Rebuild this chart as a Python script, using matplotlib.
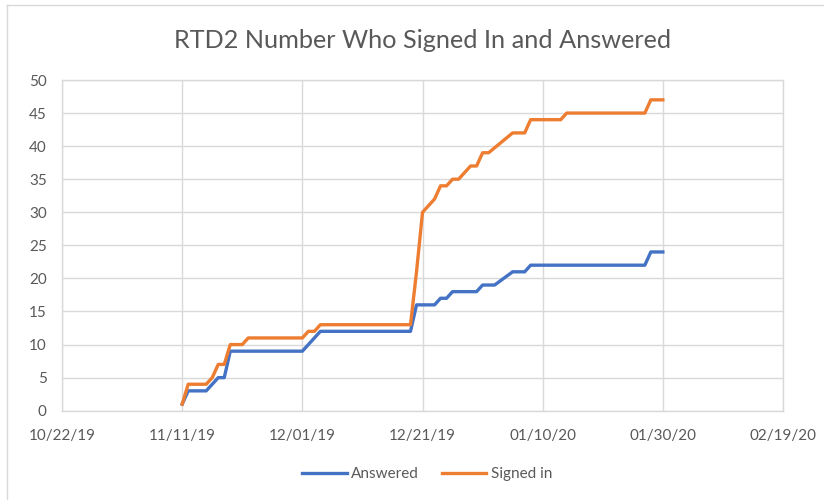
import pandas as pd
import matplotlib
matplotlib.use('Agg')
import matplotlib.pyplot as plt
import matplotlib.dates as mdates
from matplotlib.lines import Line2D

plt.rcParams['font.family'] = ['Lato', 'DejaVu Sans']

# cumulative counts (line points)
answered_dates = ['2019-11-11', '2019-11-12', '2019-11-15', '2019-11-16', '2019-11-17',
                  '2019-11-18', '2019-11-19', '2019-12-01', '2019-12-02', '2019-12-03',
                  '2019-12-04', '2019-12-19', '2019-12-20', '2019-12-23', '2019-12-24',
                  '2019-12-25', '2019-12-26', '2019-12-30', '2019-12-31', '2020-01-02',
                  '2020-01-05', '2020-01-07', '2020-01-08', '2020-01-27', '2020-01-28',
                  '2020-01-30']
answered = [1, 3, 3, 4, 5, 5, 9, 9, 10, 11, 12, 12, 16, 16, 17, 17, 18, 18, 19, 19,
            21, 21, 22, 22, 24, 24]

signed_dates = ['2019-11-11', '2019-11-12', '2019-11-15', '2019-11-16', '2019-11-17',
                '2019-11-18', '2019-11-19', '2019-11-21', '2019-11-22', '2019-12-01',
                '2019-12-02', '2019-12-03', '2019-12-04', '2019-12-19', '2019-12-20',
                '2019-12-21', '2019-12-22', '2019-12-23', '2019-12-24', '2019-12-25',
                '2019-12-26', '2019-12-27', '2019-12-28', '2019-12-29', '2019-12-30',
                '2019-12-31', '2020-01-01', '2020-01-05', '2020-01-07', '2020-01-08',
                '2020-01-13', '2020-01-14', '2020-01-27', '2020-01-28', '2020-01-30']
signed_in = [1, 4, 4, 5, 7, 7, 10, 10, 11, 11, 12, 12, 13, 13, 21, 30, 31, 32, 34, 34,
             35, 35, 36, 37, 37, 39, 39, 42, 42, 44, 44, 45, 45, 47, 47]

x_ticks = pd.date_range('2019-10-22', periods=7, freq='20D')
y_ticks = list(range(0, 51, 5))

grey = '#595959'
grid_col = '#D9D9D9'

fig = plt.figure(figsize=(8.25, 5.0), dpi=100)
ax = fig.add_axes([0.0752, 0.1786, 0.8739, 0.6614])

ax.plot(pd.to_datetime(answered_dates), answered, color='#4472C4', lw=2.4,
        label='Answered', solid_joinstyle='round')
ax.plot(pd.to_datetime(signed_dates), signed_in, color='#ED7D31', lw=2.4,
        label='Signed in', solid_joinstyle='round')

ax.set_xlim(x_ticks[0], x_ticks[-1])
ax.set_ylim(0, 50)
ax.set_xticks(x_ticks)
ax.set_yticks(y_ticks)
ax.xaxis.set_major_formatter(mdates.DateFormatter('%m/%d/%y'))
ax.tick_params(length=0, labelsize=11, labelcolor=grey)
ax.tick_params(axis='y', pad=11)
ax.tick_params(axis='x', pad=13)

ax.grid(True, color=grid_col, lw=1)
ax.set_axisbelow(True)
for s in ax.spines.values():
    s.set_color(grid_col)
    s.set_linewidth(1)

fig.text(0.5127, 0.918, 'RTD2 Number Who Signed In and Answered', ha='center',
         va='center', fontsize=18.2, color=grey)

fig.legend(loc='center', bbox_to_anchor=(0.518, 0.052), ncol=2, frameon=False,
           fontsize=11, labelcolor=grey, handlelength=2.9, handletextpad=0.3,
           columnspacing=1.5)

# faint chart-area border (left and top edges visible in the screenshot)
fig.add_artist(Line2D([0.0085, 0.0085], [0.0, 0.99], color=grid_col, lw=1))
fig.add_artist(Line2D([0.0085, 0.9975], [0.99, 0.99], color=grid_col, lw=1))

fig.savefig('out.png', dpi=100)
